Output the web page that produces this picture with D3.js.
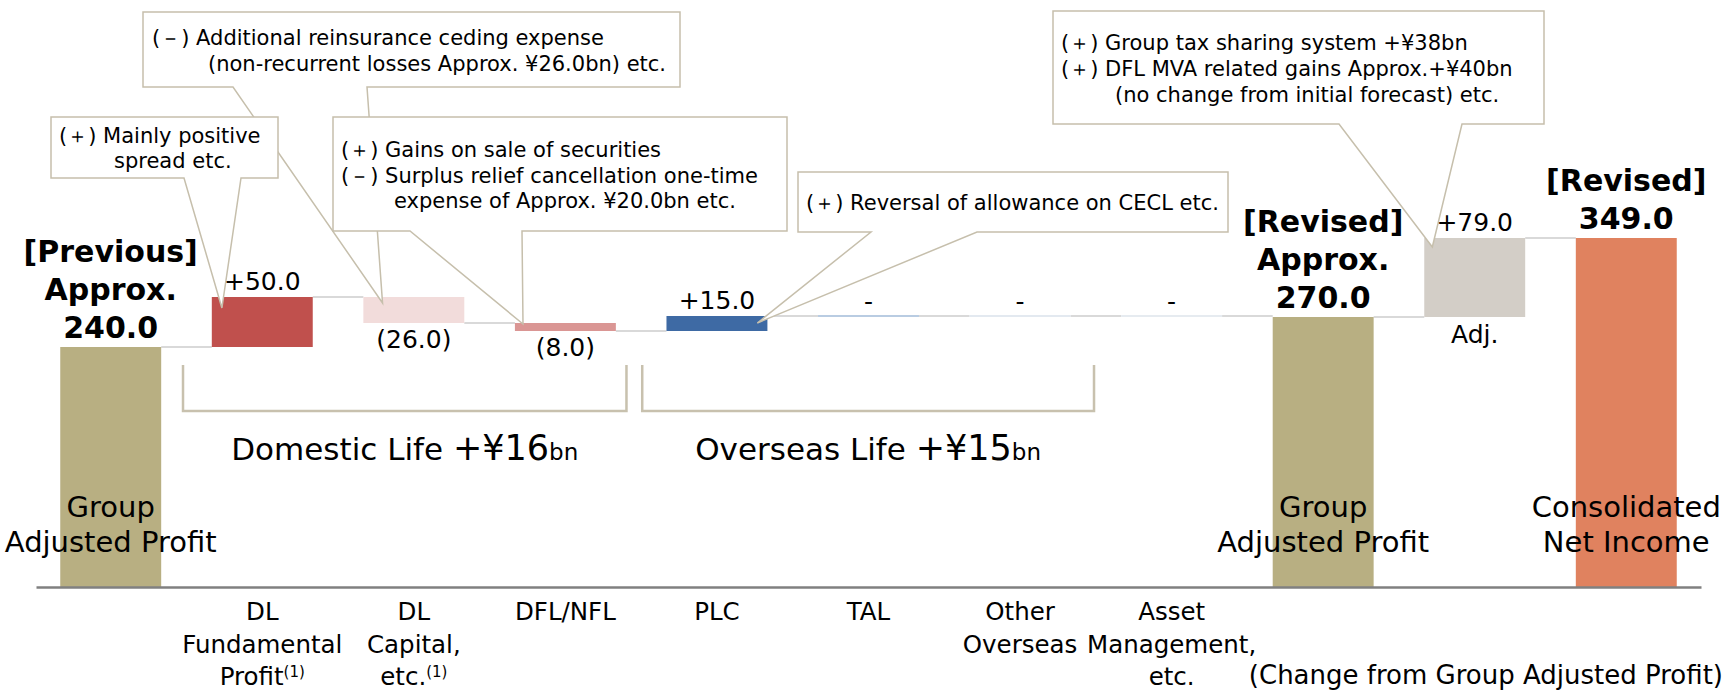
<!DOCTYPE html>
<html>
<head>
<meta charset="utf-8">
<script src="https://cdn.jsdelivr.net/npm/d3@7"></script>
<style>
  body { margin: 0; background: #fff; }
  svg { display: block; }
  text { font-family: "DejaVu Sans", sans-serif; fill: #000; }
</style>
</head>
<body>
<div id="chart"></div>
<script>
// Chart data (¥bn)
var categories = ["GAP (Previous)", "DL Fundamental Profit", "DL Capital, etc.", "DFL/NFL", "PLC", "TAL",
  "Other Overseas", "Asset Management, etc.", "GAP (Revised)", "Adj.", "Consolidated Net Income"];
var values = [240, 50, -26, -8, 15, 0, 0, 0, 270, 79, 349];
var isTotal = [true, false, false, false, false, false, false, false, true, false, true];

// Labels drawn at the bars
var valueLabels = [["[Previous]", "Approx.", "240.0"], ["+50.0"], ["(26.0)"], ["(8.0)"], ["+15.0"], ["-"], ["-"], ["-"],
  ["[Revised]", "Approx.", "270.0"], ["+79.0"], ["[Revised]", "349.0"]];
var tickLabels = [[], ["DL", "Fundamental", "Profit"], ["DL", "Capital,", "etc."], ["DFL/NFL"], ["PLC"], ["TAL"],
  ["Other", "Overseas"], ["Asset", "Management,", "etc."], [], [], []];
var tickNotes = ["", "(1)", "(1)", "", "", "", "", "", "", "", ""];
var barNames = [["Group", "Adjusted Profit"], [], [], [], [], [], [], [], ["Group", "Adjusted Profit"], [], ["Consolidated", "Net Income"]];
var underLabels = ["", "", "", "", "", "", "", "", "", "Adj.", ""];

// Segment groups
var groupNames = ["Domestic Life", "Overseas Life"];
var groupAmounts = ["+¥16", "+¥15"];
var groupSpans = [[1, 3], [4, 6]];

// Callout notes
var noteTexts = [
  ["(－) Additional reinsurance ceding expense", "(non-recurrent losses Approx. ¥26.0bn) etc."],
  ["(＋) Mainly positive", "spread etc."],
  ["(＋) Gains on sale of securities", "(－) Surplus relief cancellation one-time", "expense of Approx. ¥20.0bn etc."],
  ["(＋) Reversal of allowance on CECL etc."],
  ["(＋) Group tax sharing system +¥38bn", "(＋) DFL MVA related gains Approx.+¥40bn", "(no change from initial forecast) etc."]
];
var noteBars = [2, 1, 3, 4, 9];

var barColors = ["#b8af82", "#c0504d", "#f2dcdb", "#da9694", "#3e6aa4", "#b9cce2", "#e3e9f0", "#e6ebf0",
  "#b8af82", "#d3cec7", "#e0825f"];

// Bracket overhang either side of a segment group (share of a band step)
var groupPad = [[0.19, 0.07], [0.16, 0.155]];

// Callout box layout: box, pointer base, where the pointer ends inside the bar, text offsets
var noteLayout = [
  { x: 143, y: 12, w: 537, h: 75, base: [233, 367], tipX: 0.19, tipY: 6, lines: [[9, 33], [65, 59]] },
  { x: 51, y: 117, w: 227, h: 61, base: [184, 241], tipX: 0.1, tipY: 11, lines: [[8, 26], [63, 51]] },
  { x: 333, y: 117, w: 454, h: 114, base: [410, 522], tipX: 0.08, tipY: 1, lines: [[8, 40], [8, 66], [61, 91]] },
  { x: 798, y: 172, w: 430, h: 60, base: [871, 977], tipX: 0.9, tipY: 7, lines: [[8, 38]] },
  { x: 1053, y: 11, w: 491, h: 113, base: [1339, 1462], tipX: 0.08, tipY: 9, lines: [[8, 39], [8, 65], [62, 91]] }
];

var svgWidth = 1724;
var svgHeight = 697;

var svg = d3.select("#chart")
  .append("svg")
  .attr("width", svgWidth)
  .attr("height", svgHeight);

// Scales
var x = d3.scaleBand()
  .domain(d3.range(categories.length))
  .range([36, 1701])
  .paddingInner(0.334)
  .paddingOuter(0.16);

var y = d3.scaleLinear()
  .domain([0, 349])
  .range([587, 238]);

var bw = x.bandwidth();

// Work out waterfall start / end for each bar
var steps = [];
var running = 0;
values.forEach(function(v, i) {
  var start = isTotal[i] ? 0 : running;
  var end = isTotal[i] ? v : running + v;
  running = end;
  steps.push({ i: i, start: start, end: end, value: v });
});

// Connector lines between bars
svg.append("g")
  .selectAll("line")
  .data(d3.pairs(steps))
  .enter()
  .append("line")
  .attr("x1", d => x(d[0].i) + bw)
  .attr("x2", d => x(d[1].i))
  .attr("y1", d => y(d[0].end))
  .attr("y2", d => y(d[0].end))
  .attr("stroke", "#d9d9d9")
  .attr("stroke-width", 2);

// Bars
svg.append("g")
  .selectAll("rect")
  .data(steps)
  .enter()
  .append("rect")
  .attr("x", d => x(d.i))
  .attr("width", bw)
  .attr("y", d => d.value === 0 ? y(d.end) - 1 : y(Math.max(d.start, d.end)))
  .attr("height", d => d.value === 0 ? 2 : Math.abs(y(d.start) - y(d.end)))
  .attr("fill", d => barColors[d.i]);

// Names inside the total bars
steps.forEach(function(d) {
  barNames[d.i].forEach(function(line, k) {
    svg.append("text")
      .attr("x", x(d.i) + bw / 2)
      .attr("y", y(70) + k * 35)
      .attr("text-anchor", "middle")
      .attr("font-size", 29)
      .text(line);
  });
  if (underLabels[d.i]) {
    svg.append("text")
      .attr("x", x(d.i) + bw / 2)
      .attr("y", y(d.start) + 26)
      .attr("text-anchor", "middle")
      .attr("font-size", 25)
      .text(underLabels[d.i]);
  }
});

// X axis
var bottomAxis = d3.axisBottom(x).tickSize(0).tickSizeOuter(0).tickFormat("");
var xAxis = svg.append("g")
  .attr("transform", `translate(0, ${y(0)})`)
  .call(bottomAxis);

xAxis.select(".domain")
  .attr("stroke", "#808080")
  .attr("stroke-width", 2.5);

xAxis.selectAll(".tick text").remove();
xAxis.selectAll(".tick").each(function(d) {
  var t = d3.select(this).append("text")
    .attr("text-anchor", "middle")
    .attr("font-size", 24.5);
  tickLabels[d].forEach(function(line, k) {
    t.append("tspan").attr("x", 0).attr("y", 33 + k * 32.5).text(line);
  });
  if (tickNotes[d]) {
    t.append("tspan").attr("font-size", 15).attr("dy", -8).text(tickNotes[d]);
  }
});

// Segment brackets
groupSpans.forEach(function(span, g) {
  var left = x(span[0]) - groupPad[g][0] * x.step();
  var right = x(span[1]) + bw + groupPad[g][1] * x.step();
  svg.append("path")
    .attr("d", `M${left},365V411H${right}V365`)
    .attr("fill", "none")
    .attr("stroke", "#c8c1ae")
    .attr("stroke-width", 2.5);

  var label = svg.append("text")
    .attr("x", (left + right) / 2)
    .attr("y", 460)
    .attr("text-anchor", "middle");
  label.append("tspan").attr("font-size", 31).text(groupNames[g] + " ");
  label.append("tspan").attr("font-size", 35).text(groupAmounts[g]);
  label.append("tspan").attr("font-size", 23).text("bn");
});

// Callouts
noteLayout.forEach(function(b, n) {
  var bar = noteBars[n];
  var tipX = x(bar) + bw * b.tipX;
  var tipY = y(Math.max(steps[bar].start, steps[bar].end)) + b.tipY;
  var bottom = b.y + b.h;

  svg.append("path")
    .attr("d", `M${b.x},${b.y}H${b.x + b.w}V${bottom}H${b.base[1]}L${tipX},${tipY}L${b.base[0]},${bottom}H${b.x}Z`)
    .attr("fill", "#fff")
    .attr("stroke", "#c6bfac")
    .attr("stroke-width", 1.5);

  noteTexts[n].forEach(function(line, k) {
    svg.append("text")
      .attr("x", b.x + b.lines[k][0])
      .attr("y", b.y + b.lines[k][1])
      .attr("font-size", 21)
      .text(line);
  });
});

// Value labels
steps.forEach(function(d) {
  var lines = valueLabels[d.i];
  var cx = x(d.i) + bw / 2;
  if (isTotal[d.i]) {
    lines.forEach(function(line, k) {
      svg.append("text")
        .attr("x", cx)
        .attr("y", y(d.end) - 9 - (lines.length - 1 - k) * 38)
        .attr("text-anchor", "middle")
        .attr("font-size", 30)
        .attr("font-weight", "bold")
        .text(line);
    });
  } else {
    var ty = d.value > 0 ? y(d.end) - 7 : d.value < 0 ? y(d.end) + 25 : y(d.end) - 6;
    svg.append("text")
      .attr("x", cx)
      .attr("y", ty)
      .attr("text-anchor", "middle")
      .attr("font-size", 25)
      .text(lines[0]);
  }
});

// Footnote
svg.append("text")
  .attr("x", 1723)
  .attr("y", 684)
  .attr("text-anchor", "end")
  .attr("font-size", 26)
  .text("(Change from Group Adjusted Profit)");
</script>
</body>
</html>
